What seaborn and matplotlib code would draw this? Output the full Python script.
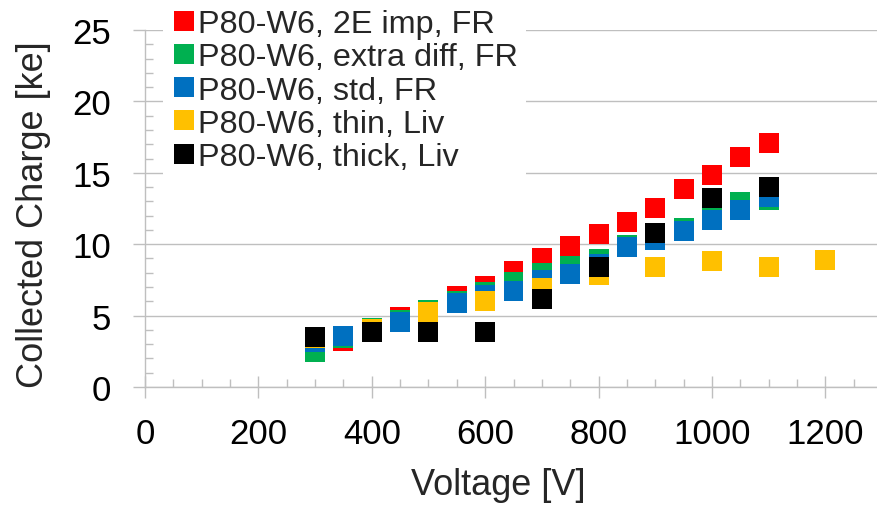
import matplotlib
matplotlib.use("Agg")
import matplotlib.pyplot as plt
from matplotlib.lines import Line2D
from matplotlib.ticker import MultipleLocator
import numpy as np
import pandas as pd
import seaborn as sns

# Collected charge [ke] versus bias voltage [V] for P80-W6 samples
series_names = [
    "P80-W6, 2E imp, FR",
    "P80-W6, extra diff, FR",
    "P80-W6, std, FR",
    "P80-W6, thin, Liv",
    "P80-W6, thick, Liv",
]
series_colors = ["#FF0000", "#00B050", "#0070C0", "#FFC000", "#000000"]

voltage_fr = [300, 350, 400, 450, 500, 550, 600, 650, 700, 750, 800,
              850, 900, 950, 1000, 1050, 1100]
charge_2e_imp = [2.9, 3.24, 4.0, 4.88, 5.3, 6.35, 7.1, 8.12, 9.03, 9.9, 10.74,
                 11.55, 12.51, 13.89, 14.82, 16.1, 17.09]
charge_extra_diff = [2.47, 3.45, 4.11, 4.72, 5.42, 6.05, 6.63, 7.33, 8.0, 8.45, 8.96,
                     9.94, 10.27, 11.13, 13.1, 12.98, 13.1]
charge_std = [3.13, 3.57, 3.95, 4.55, 4.9, 5.88, 6.47, 6.72, 7.46, 7.94, 8.61,
              9.78, 10.29, 10.92, 11.68, 12.39, 13.28]

voltage_thin = [300, 400, 500, 600, 700, 800, 900, 1000, 1100, 1200]
charge_thin = [3.42, 4.04, 5.22, 6.0, 6.91, 7.82, 8.42, 8.8, 8.4, 8.91]

voltage_thick = [300, 400, 500, 600, 700, 800, 900, 1000, 1100]
charge_thick = [3.48, 3.87, 3.83, 3.85, 6.16, 8.43, 10.75, 13.26, 13.98]

x_ticks = [0, 200, 400, 600, 800, 1000, 1200]
y_ticks = [0, 5, 10, 15, 20, 25]

frames = []
for name, v, q in [
    (series_names[0], voltage_fr, charge_2e_imp),
    (series_names[1], voltage_fr, charge_extra_diff),
    (series_names[2], voltage_fr, charge_std),
    (series_names[3], voltage_thin, charge_thin),
    (series_names[4], voltage_thick, charge_thick),
]:
    frames.append(pd.DataFrame({"Voltage": v, "Charge": q, "Series": name}))
df = pd.concat(frames, ignore_index=True)

sns.set_style("white")
plt.rcParams["font.family"] = ["Liberation Sans", "DejaVu Sans"]

grid_gray = "#BFBFBF"

fig = plt.figure(figsize=(8.77, 5.06), dpi=100)
ax = fig.add_axes([145 / 877, 118 / 506, 737 / 877, 357 / 506])

sns.scatterplot(
    data=df, x="Voltage", y="Charge", hue="Series",
    hue_order=series_names, palette=series_colors,
    marker="s", s=207, linewidth=0, legend=False, ax=ax, zorder=3,
)

ax.set_xlim(0, 1300)
ax.set_ylim(0, 25)
ax.set_xticks(x_ticks)
ax.set_yticks(y_ticks)
ax.xaxis.set_minor_locator(MultipleLocator(50))
ax.yaxis.set_minor_locator(MultipleLocator(1))

ax.tick_params(axis="x", which="major", direction="inout", length=15.8, width=1.0,
               color=grid_gray, labelsize=25, pad=14, labelcolor="black")
ax.tick_params(axis="y", which="major", direction="out", length=8.6, width=1.0,
               color=grid_gray, labelsize=25, pad=16, labelcolor="black")
ax.tick_params(axis="both", which="minor", direction="in", length=5.8, width=1.0,
               color=grid_gray)
ax.tick_params(left=True, bottom=True, which="both")

ax.yaxis.grid(True, which="major", color=grid_gray, linewidth=1.0)
ax.xaxis.grid(False)
ax.set_axisbelow(True)

for side in ["top", "right"]:
    ax.spines[side].set_visible(False)
for side in ["left", "bottom"]:
    ax.spines[side].set_color(grid_gray)
    ax.spines[side].set_linewidth(1.0)

ax.set_xlabel("Voltage [V]", fontsize=26)
ax.set_ylabel("Collected Charge [ke]", fontsize=26)
ax.xaxis.set_label_coords(0.480, -0.224)
ax.yaxis.set_label_coords(-0.1275, 0.485)

handles = [
    Line2D([], [], marker="s", linestyle="none", markersize=13.7,
           markerfacecolor=c, markeredgewidth=0)
    for c in series_colors
]
leg = ax.legend(
    handles, series_names, loc="upper left",
    bbox_to_anchor=(162.7 / 877, 1 - 2 / 506), bbox_transform=fig.transFigure,
    fontsize=23.3, frameon=True, facecolor="white", edgecolor="none", framealpha=1,
    borderpad=0.25, borderaxespad=0, handlelength=0.8, handletextpad=0.05,
    labelspacing=0.1,
)
leg.set_zorder(5)

fig.savefig("out.png", dpi=100)
